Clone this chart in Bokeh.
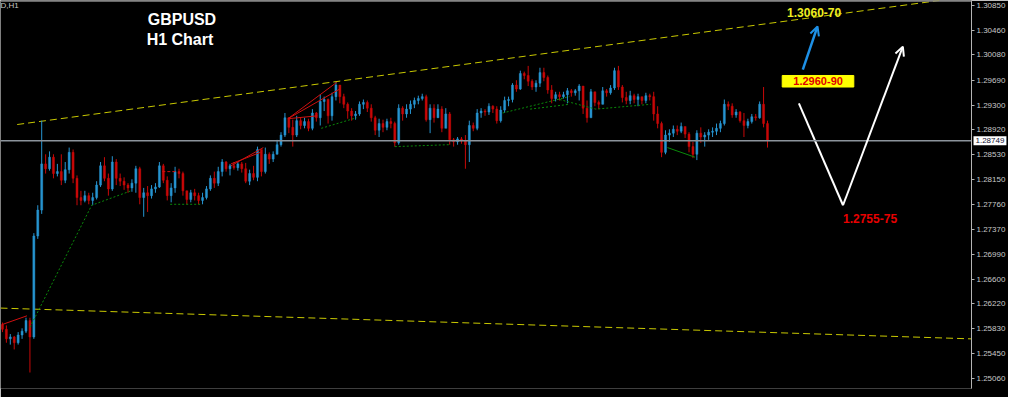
from bokeh.plotting import figure
from bokeh.models import (ColumnDataSource, Span, Label, Arrow, OpenHead, FixedTicker,
                          PrintfTickFormatter, Range1d)
from bokeh.embed import file_html
from bokeh.resources import INLINE

# ---------------- data ----------------
first_open = 1.25897
closes = [
    1.25822, 1.25673, 1.25703, 1.25613, 1.25733, 1.25793, 1.25957, 1.25703, 1.27270, 1.27672,
    1.28389, 1.28314, 1.28493, 1.28239, 1.28269, 1.28135, 1.28299, 1.28568, 1.28165, 1.27866,
    1.27822, 1.27896, 1.27822, 1.27866, 1.28060, 1.28359, 1.28165, 1.28001, 1.28418, 1.28165,
    1.28120, 1.28060, 1.28016, 1.28090, 1.28314, 1.27866, 1.27941, 1.27896, 1.28001, 1.28031,
    1.28359, 1.28135, 1.27896, 1.28016, 1.28269, 1.28239, 1.27971, 1.27837, 1.27941, 1.27896,
    1.27822, 1.27866, 1.28001, 1.28165, 1.28090, 1.28269, 1.28418, 1.28314, 1.28359, 1.28329,
    1.28389, 1.28314, 1.28120, 1.28239, 1.28180, 1.28612, 1.28269, 1.28538, 1.28463, 1.28538,
    1.28687, 1.28836, 1.29105, 1.28956, 1.28836, 1.29060, 1.28985, 1.29045, 1.28941, 1.29179,
    1.29105, 1.29358, 1.29388, 1.29135, 1.29433, 1.29612, 1.29433, 1.29314, 1.29209, 1.29135,
    1.29164, 1.29314, 1.29343, 1.29254, 1.29105, 1.28911, 1.29015, 1.28956, 1.29045, 1.29015,
    1.28717, 1.29254, 1.29164, 1.29239, 1.29314, 1.29373, 1.29403, 1.29433, 1.29075, 1.29254,
    1.29105, 1.29239, 1.28941, 1.29164, 1.28762, 1.28732, 1.28777, 1.28747, 1.28687, 1.28985,
    1.28941, 1.29179, 1.29209, 1.29194, 1.29284, 1.29239, 1.29060, 1.29224, 1.29373, 1.29388,
    1.29612, 1.29552, 1.29791, 1.29761, 1.29672, 1.29582, 1.29642, 1.29806, 1.29731, 1.29537,
    1.29403, 1.29463, 1.29433, 1.29463, 1.29523, 1.29493, 1.29523, 1.29597, 1.29254, 1.29105,
    1.29508, 1.29343, 1.29314, 1.29523, 1.29493, 1.29567, 1.29836, 1.29582, 1.29418, 1.29373,
    1.29448, 1.29388, 1.29433, 1.29373, 1.29448, 1.29433, 1.29164, 1.29015, 1.28568, 1.28836,
    1.28866, 1.28926, 1.28896, 1.28970, 1.28851, 1.28657, 1.28538, 1.28866, 1.28806, 1.28836,
    1.28881, 1.28896, 1.28941, 1.29015, 1.29314, 1.29284, 1.29149, 1.29194, 1.29060, 1.28985,
    1.29045, 1.29120, 1.29105, 1.29314, 1.29015, 1.28749,
]
highs = [
    1.25927, 1.25882, 1.25748, 1.25718, 1.25778, 1.25837, 1.26001, 1.26001, 1.27314, 1.27747,
    1.29060, 1.28538, 1.28583, 1.28538, 1.28389, 1.28538, 1.28418, 1.28642, 1.28612, 1.28210,
    1.27971, 1.27971, 1.27941, 1.27941, 1.28120, 1.28418, 1.28493, 1.28239, 1.28508, 1.28463,
    1.28239, 1.28180, 1.28090, 1.28150, 1.28359, 1.28344, 1.28016, 1.28045, 1.28060, 1.28090,
    1.28418, 1.28389, 1.28195, 1.28090, 1.28344, 1.28314, 1.28269, 1.27971, 1.27986, 1.28001,
    1.27941, 1.27941, 1.28045, 1.28210, 1.28269, 1.28344, 1.28463, 1.28433, 1.28389, 1.28418,
    1.28418, 1.28418, 1.28404, 1.28299, 1.28359, 1.28657, 1.28568, 1.28642, 1.28568, 1.28583,
    1.28762, 1.28881, 1.29179, 1.29105, 1.29075, 1.29135, 1.29105, 1.29105, 1.29090, 1.29239,
    1.29194, 1.29463, 1.29433, 1.29403, 1.29493, 1.29657, 1.29612, 1.29478, 1.29343, 1.29254,
    1.29209, 1.29358, 1.29388, 1.29373, 1.29314, 1.29135, 1.29090, 1.29075, 1.29090, 1.29105,
    1.29045, 1.29314, 1.29284, 1.29314, 1.29373, 1.29418, 1.29448, 1.29478, 1.29463, 1.29314,
    1.29314, 1.29314, 1.29284, 1.29254, 1.29194, 1.28791, 1.28806, 1.28806, 1.28836, 1.29060,
    1.29030, 1.29239, 1.29254, 1.29239, 1.29329, 1.29299, 1.29284, 1.29284, 1.29433, 1.29433,
    1.29642, 1.29687, 1.29836, 1.29821, 1.29910, 1.29702, 1.29687, 1.29881, 1.29881, 1.29761,
    1.29612, 1.29508, 1.29508, 1.29508, 1.29567, 1.29552, 1.29552, 1.29627, 1.29582, 1.29373,
    1.29552, 1.29478, 1.29373, 1.29582, 1.29552, 1.29612, 1.29881, 1.29910, 1.29612, 1.29508,
    1.29523, 1.29478, 1.29478, 1.29418, 1.29493, 1.29478, 1.29508, 1.29284, 1.29045, 1.28911,
    1.28926, 1.28985, 1.28985, 1.29030, 1.28941, 1.28881, 1.28732, 1.28911, 1.28956, 1.28881,
    1.28926, 1.28956, 1.29015, 1.29060, 1.29388, 1.29358, 1.29329, 1.29239, 1.29209, 1.29179,
    1.29090, 1.29164, 1.29164, 1.29358, 1.29582, 1.29060,
]
lows = [
    1.25778, 1.25613, 1.25584, 1.25509, 1.25584, 1.25673, 1.25763, 1.25151, 1.25673, 1.27225,
    1.27613, 1.28239, 1.28284, 1.28165, 1.28195, 1.28060, 1.28090, 1.28239, 1.28090, 1.27747,
    1.27747, 1.27792, 1.27762, 1.27747, 1.27837, 1.28031, 1.28120, 1.27896, 1.27971, 1.28060,
    1.28045, 1.27986, 1.27941, 1.27956, 1.27941, 1.27762, 1.27568, 1.27643, 1.27851, 1.27941,
    1.28016, 1.28090, 1.27822, 1.27792, 1.27941, 1.28165, 1.27896, 1.27762, 1.27792, 1.27822,
    1.27762, 1.27762, 1.27837, 1.27971, 1.28016, 1.28045, 1.28195, 1.28269, 1.28210, 1.28299,
    1.28284, 1.28254, 1.28090, 1.28060, 1.28135, 1.28120, 1.28195, 1.28239, 1.28389, 1.28418,
    1.28538, 1.28657, 1.28806, 1.28866, 1.28657, 1.28806, 1.28926, 1.28941, 1.28896, 1.28911,
    1.29045, 1.28985, 1.29209, 1.29015, 1.29060, 1.29373, 1.29329, 1.29254, 1.29090, 1.29060,
    1.29075, 1.29135, 1.29239, 1.29194, 1.29045, 1.28836, 1.28806, 1.28881, 1.28911, 1.28941,
    1.28657, 1.28687, 1.29060, 1.29105, 1.29164, 1.29254, 1.29314, 1.29373, 1.29045, 1.28866,
    1.29030, 1.29105, 1.28881, 1.29060, 1.28687, 1.28657, 1.28687, 1.28702, 1.28314, 1.28418,
    1.28896, 1.28911, 1.29105, 1.29135, 1.29149, 1.29179, 1.29015, 1.29030, 1.29179, 1.29284,
    1.29343, 1.29508, 1.29537, 1.29702, 1.29597, 1.29537, 1.29508, 1.29582, 1.29672, 1.29478,
    1.29329, 1.29358, 1.29373, 1.29403, 1.29329, 1.29433, 1.29448, 1.29373, 1.29164, 1.29030,
    1.29135, 1.29284, 1.29239, 1.29314, 1.29433, 1.29463, 1.29537, 1.29537, 1.29343, 1.29314,
    1.29314, 1.29329, 1.29284, 1.29314, 1.29329, 1.29373, 1.29060, 1.28941, 1.28493, 1.28538,
    1.28732, 1.28806, 1.28836, 1.28866, 1.28791, 1.28568, 1.28478, 1.28448, 1.28717, 1.28657,
    1.28762, 1.28806, 1.28836, 1.28881, 1.28985, 1.29224, 1.29105, 1.29105, 1.29030, 1.28806,
    1.28941, 1.29015, 1.29060, 1.29090, 1.28956, 1.28642,
]
current_price = 1.28749
axis_ticks = [1.30850, 1.30460, 1.30080, 1.29690, 1.29300, 1.28920, 1.28530, 1.28150,
              1.27760, 1.27370, 1.26990, 1.26600, 1.26220, 1.25830, 1.25450, 1.25060]

# channel lines (bar index, price)
upper_x = [3.75, 238.75]
upper_y = [1.29000, 1.30925]
lower_x = [-0.5, 247.0]
lower_y = [1.26151, 1.25673]

# short red trend lines
red_xs = [[0.0, 6.25], [58.25, 65.75], [58.25, 66.5], [72.75, 85.25], [72.75, 86.0], [72.75, 80.25]]
red_ys = [[1.25897, 1.26031], [1.28389, 1.28568], [1.28359, 1.28642],
          [1.29090, 1.29657], [1.29090, 1.29552], [1.29090, 1.29135]]
red_dot_x = [40.75, 44.5]
red_dot_y = [1.28269, 1.28269]
# green dotted lines
green_xs = [[7.0, 22.75, 32.75], [42.75, 50.75], [81.25, 90.25], [100.0, 113.75],
            [127.5, 144.5], [134.5, 144.5], [142.0, 151.25, 165.25]]
green_ys = [[1.25852, 1.27747, 1.27971], [1.27762, 1.27762], [1.28941, 1.29105],
            [1.28657, 1.28687], [1.29179, 1.29433], [1.29239, 1.29314],
            [1.29388, 1.29239, 1.29314]]
green_solid_x = [169.5, 176.5]
green_solid_y = [1.28642, 1.28493]

# scenario annotations
blue_arrow_x = [204.0, 207.75]
blue_arrow_y = [1.29851, 1.30522]
v_x = [203.0, 214.25, 229.5]
v_y = [1.29329, 1.27747, 1.30209]
box_x = [198.75, 217.0]
box_y = [1.29582, 1.29761]
target_hi = "1.3060-70"
target_mid = "1.2960-90"
target_lo = "1.2755-75"
target_hi_pos = (200.0, 1.30746)
target_mid_pos = (207.9, 1.29672)
target_lo_pos = (214.25, 1.27538)

# ---------------- figure ----------------
BULL = "#2794d0"
BEAR = "#c80808"
W, H = 1008, 397
RIGHT = 34
TAG_PANEL = 9           # height taken by the price-tag panel at the bottom
X0, X1 = -0.5, 247.0
Y1 = 1.30925
PRICE_PER_PX = (1.30925 - 1.24763) / H
Y0 = Y1 - (H - TAG_PANEL) * PRICE_PER_PX

p = figure(width=W, height=H,
           x_range=Range1d(X0, X1), y_range=Range1d(Y0, Y1),
           output_backend="svg", toolbar_location=None,
           x_axis_location=None, y_axis_location="right",
           background_fill_color="black", border_fill_color="black",
           outline_line_color=None,
           min_border_left=0, min_border_right=RIGHT, min_border_top=0, min_border_bottom=0)
p.xgrid.visible = False
p.ygrid.visible = False

ax = p.yaxis[0]
ax.ticker = FixedTicker(ticks=axis_ticks)
ax.formatter = PrintfTickFormatter(format="%.5f")
ax.major_label_text_font = "Liberation Sans"
ax.major_label_text_font_size = "8px"
ax.major_label_text_color = "#c8c8c8"
ax.axis_line_color = "#b4b4b4"
ax.major_tick_line_color = "#b4b4b4"
ax.major_tick_in = 0
ax.major_tick_out = 3
ax.minor_tick_line_color = None
ax.major_label_standoff = 2

# top border line
p.add_layout(Span(location=Y1 - 0.00003, dimension="width", line_color="#8a8a8a", line_width=2))

# channel lines
p.line(upper_x, upper_y, line_color="#c8c800", line_width=1, line_dash="7 4")
p.line(lower_x, lower_y, line_color="#c8c800", line_width=1, line_dash="7 4")

# candles
n = len(closes)
idx = list(range(n))
opens = [first_open] + closes[:-1]
cols = [BULL if c >= o else BEAR for o, c in zip(opens, closes)]
src = ColumnDataSource(dict(
    x=idx, o=opens, c=closes, h=highs, l=lows,
    top=[max(o, c) for o, c in zip(opens, closes)],
    bot=[min(o, c) for o, c in zip(opens, closes)],
    col=cols))
p.segment(x0="x", y0="l", x1="x", y1="h", source=src, line_color="col", line_width=1)
p.vbar(x="x", width=0.5, top="top", bottom="bot", source=src,
       fill_color="col", line_color="col", line_width=0.5)

# trend lines
p.multi_line(red_xs, red_ys, line_color="#d01010", line_width=1)
p.line(red_dot_x, red_dot_y, line_color="#d01010", line_width=1, line_dash="3 2")
p.multi_line(green_xs, green_ys, line_color="#0a8a0a", line_width=1, line_dash="2 2")
p.line(green_solid_x, green_solid_y, line_color="#0a8a0a", line_width=1)

# current price line + tag on the axis (tag lives in a side panel, so it is not clipped)
p.add_layout(Span(location=current_price, dimension="width", line_color="#8c949c", line_width=1.5))
p.add_layout(Label(x=X1, y=current_price, x_offset=2,
                   text=f"{current_price:.5f}",
                   text_font="Liberation Sans", text_font_size="8px", text_color="#101030",
                   text_baseline="middle", background_fill_color="white", padding=2), "below")

# titles
p.add_layout(Label(x=45.75, y=1.30627, text="GBPUSD", text_align="center", text_baseline="middle",
                   text_font="Liberation Sans", text_font_style="bold", text_font_size="16px",
                   text_color="white"))
p.add_layout(Label(x=45.25, y=1.30313, text="H1 Chart", text_align="center", text_baseline="middle",
                   text_font="Liberation Sans", text_font_style="bold", text_font_size="16px",
                   text_color="white"))
p.add_layout(Label(x=-0.5, y=1.30850, text="D,H1", text_baseline="middle",
                   text_font="Liberation Sans", text_font_size="8px", text_color="#c8c8c8"))

# scenario drawing
p.quad(left=[box_x[0]], right=[box_x[1]], bottom=[box_y[0]], top=[box_y[1]],
       fill_color="#ffff00", line_color="#ffff00")
p.add_layout(Arrow(end=OpenHead(line_color="#1e90e6", line_width=2, size=9),
                   x_start=blue_arrow_x[0], y_start=blue_arrow_y[0],
                   x_end=blue_arrow_x[1], y_end=blue_arrow_y[1],
                   line_color="#1e90e6", line_width=2.5))
p.line(v_x[:2], v_y[:2], line_color="white", line_width=2)
p.add_layout(Arrow(end=OpenHead(line_color="white", line_width=2, size=9),
                   x_start=v_x[1], y_start=v_y[1], x_end=v_x[2], y_end=v_y[2],
                   line_color="white", line_width=2))

p.add_layout(Label(x=target_hi_pos[0], y=target_hi_pos[1], text=target_hi, text_baseline="middle",
                   text_font="Liberation Sans", text_font_style="bold", text_font_size="12px",
                   text_color="#f0f020"))
p.add_layout(Label(x=target_mid_pos[0], y=target_mid_pos[1], text=target_mid, text_align="center",
                   text_baseline="middle", text_font="Liberation Sans", text_font_style="bold",
                   text_font_size="11px", text_color="#e00000"))
p.add_layout(Label(x=target_lo_pos[0], y=target_lo_pos[1], text=target_lo, text_baseline="middle",
                   text_font="Liberation Sans", text_font_style="bold", text_font_size="12px",
                   text_color="#e80000"))

open("out.html", "w").write(file_html(p, INLINE))
